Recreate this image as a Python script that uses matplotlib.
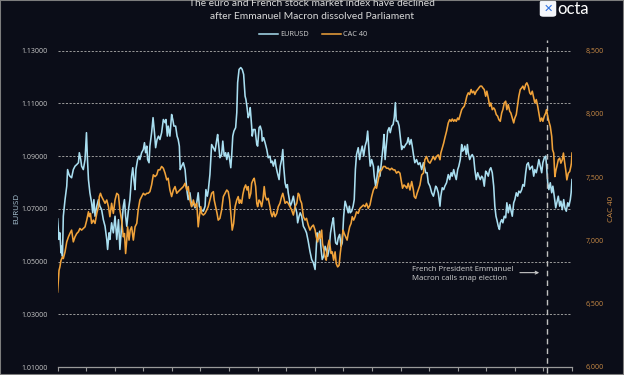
import matplotlib
matplotlib.use("Agg")
import matplotlib.pyplot as plt
from matplotlib.patches import FancyBboxPatch, Rectangle
from matplotlib.ticker import FuncFormatter

plt.rcParams['font.family'] = ['Lato', 'DejaVu Sans']

# ---------------- data (time in months since start of series) ----------------
eur_t = [0.00,0.05,0.08,0.12,0.14,0.17,0.20,0.26,0.32,0.35,0.40,0.43,0.49,0.55,0.61,0.67,0.73,0.76,0.81,0.84,
         0.90,0.96,1.01,1.04,1.08,1.13,1.19,1.23,1.27,1.31,1.37,1.43,1.48,1.54,1.60,1.66,1.72,1.75,1.80,1.83,
         1.89,1.95,2.01,2.07,2.13,2.18,2.24,2.30,2.34,2.38,2.42,2.48,2.53,2.59,2.63,2.67,2.71,2.74,2.80,2.85,
         2.88,2.94,3.00,3.04,3.08,3.12,3.15,3.20,3.23,3.29,3.34,3.39,3.43,3.48,3.53,3.58,3.64,3.70,3.76,3.79,
         3.84,3.87,3.93,3.99,4.03,4.07,4.13,4.18,4.22,4.26,4.29,4.34,4.40,
         4.46,4.52,4.57,4.63,4.69,4.75,4.81,4.87,4.92,4.96,5.02,5.10,5.16,5.19,5.24,5.27,5.33,5.39,5.45,5.51,
         5.57,5.60,5.65,5.68,5.74,5.78,5.83,5.88,5.92,5.97,6.01,6.06,6.09,6.13,6.17,6.23,6.27,6.30,6.35,6.41,
         6.46,6.51,6.56,6.59,6.63,6.67,6.71,6.74,6.79,6.81,6.85,6.91,6.97,7.00,7.05,7.09,7.14,7.16,7.21,7.26,
         7.32,7.37,7.43,7.47,7.51,7.55,7.61,7.64,7.69,7.75,7.79,7.84,7.88,7.91,7.96,8.00,8.04,8.07,8.11,8.14,
         8.19,8.25,8.31,8.37,8.40,8.45,8.49,8.54,8.60,8.66,8.71,8.77,8.83,8.89,8.95,9.01,
         9.04,9.08,9.12,9.17,9.22,9.26,9.31,9.36,9.40,9.45,9.50,9.55,9.61,9.65,9.68,9.73,9.78,9.82,9.87,9.92,
         9.96,10.01,10.06,10.11,10.17,10.21,10.24,10.29,10.34,10.38,10.42,10.46,10.52,10.57,10.62,10.66,10.71,10.76,10.81,10.85,
         10.90,10.94,10.99,11.05,11.08,11.13,11.18,11.22,11.28,11.34,11.39,11.42,11.46,11.50,11.55,11.60,11.64,11.69,11.74,11.78,
         11.82,11.85,11.90,11.95,11.99,12.04,12.07,12.12,12.18,12.23,12.27,12.32,12.37,12.41,12.46,12.50,12.56,12.62,12.68,12.74,
         12.80,12.83,12.88,12.93,12.97,13.03,13.09,13.15,13.18,13.23,13.27,13.32,13.38,13.41,13.46,13.51,13.55,
         13.61,13.67,13.72,13.77,13.81,13.86,13.90,13.95,14.00,14.04,14.09,14.14,14.17,14.21,14.25,14.30,14.34,14.37,14.42,14.47,
         14.51,14.56,14.60,14.65,14.70,14.74,14.79,14.84,14.88,14.93,14.98,15.02,15.07,15.12,15.16,15.21,15.26,15.30,15.34,15.37,
         15.42,15.46,15.49,15.54,15.58,15.63,15.68,15.72,15.77,15.82,15.86,15.91,15.96,16.00,16.05,16.10,16.14,16.19,16.24,16.28,
         16.33,16.38,16.42,16.47,16.52,16.56,16.61,16.66,16.70,16.75,16.80,16.84,16.89,16.94,16.98,17.03,17.08,17.11,17.15,17.19,
         17.24,17.29,17.33,17.38,17.43,17.47,17.52,17.57,17.61,17.66,17.71,17.75,17.80,17.85,17.89,17.94,17.97,18.00]

eurusd = [1.0662,1.0584,1.0609,1.0533,1.0558,1.0520,1.0672,1.0735,1.0786,1.0849,1.0830,1.0824,1.0818,1.0849,1.0862,1.0868,1.0875,1.0913,1.0887,1.0862,
          1.0849,1.0887,1.0989,1.0900,1.0811,1.0761,1.0723,1.0685,1.0735,1.0672,1.0710,1.0735,1.0710,1.0697,1.0659,1.0634,1.0584,1.0546,1.0609,1.0584,
          1.0647,1.0609,1.0672,1.0584,1.0659,1.0546,1.0634,1.0710,1.0735,1.0672,1.0634,1.0697,1.0735,1.0824,1.0856,1.0811,1.0773,1.0849,1.0887,1.0900,
          1.0887,1.0913,1.0925,1.0951,1.0913,1.0938,1.0887,1.0875,1.0938,1.0989,1.1046,1.0989,1.0932,1.0963,1.0976,1.0963,1.0989,1.1039,1.1027,1.1039,
          1.0976,1.1014,1.0976,1.1058,1.1039,1.1014,1.1014,1.0976,1.0963,1.0938,1.0849,1.0862,1.0875,
          1.0849,1.0773,1.0735,1.0761,1.0710,1.0723,1.0704,1.0723,1.0761,1.0710,1.0697,1.0691,1.0710,1.0773,1.0748,1.0767,1.0830,1.0944,1.0932,1.0919,
          1.0963,1.0982,1.0925,1.0894,1.0906,1.0957,1.0900,1.0913,1.0887,1.0913,1.0894,1.0856,1.0900,1.0976,1.0995,1.1008,1.1065,1.1179,1.1229,1.1236,
          1.1229,1.1210,1.1128,1.1115,1.1084,1.1046,1.1058,1.1084,1.1014,1.0976,1.1001,1.1001,1.0944,1.0938,1.1008,1.1014,1.0995,1.0957,1.0970,1.0951,
          1.0925,1.0894,1.0900,1.0875,1.0881,1.0862,1.0887,1.0862,1.0837,1.0811,1.0862,1.0887,1.0925,1.0862,1.0799,1.0780,1.0792,1.0761,1.0735,1.0710,
          1.0723,1.0748,1.0710,1.0685,1.0647,1.0672,1.0685,1.0672,1.0634,1.0622,1.0609,1.0577,1.0539,1.0508,1.0495,1.0470,
          1.0530,1.0609,1.0584,1.0615,1.0546,1.0508,1.0520,1.0558,1.0546,1.0520,1.0546,1.0609,1.0647,1.0666,1.0622,1.0571,1.0565,1.0590,1.0603,1.0558,
          1.0571,1.0672,1.0729,1.0710,1.0685,1.0710,1.0685,1.0691,1.0710,1.0735,1.0849,1.0906,1.0932,1.0887,1.0919,1.0938,1.0900,1.0938,1.0957,1.0995,
          1.0913,1.0862,1.0887,1.0862,1.0824,1.0786,1.0824,1.0862,1.0824,1.0887,1.0938,1.0982,1.0887,1.0938,1.0995,1.1008,1.0989,1.1014,1.1020,1.1046,
          1.1103,1.1033,1.1033,1.1014,1.0976,1.0925,1.0938,1.0932,1.0944,1.0951,1.0970,1.0944,1.0963,1.0938,1.0900,1.0875,1.0887,1.0868,1.0875,1.0849,
          1.0875,1.0862,1.0837,1.0837,1.0799,1.0786,1.0761,1.0748,1.0761,1.0786,1.0780,1.0761,1.0710,1.0748,1.0780,1.0773,1.0786,
          1.0799,1.0830,1.0811,1.0837,1.0824,1.0849,1.0830,1.0811,1.0849,1.0862,1.0887,1.0944,1.0919,1.0925,1.0938,1.0906,1.0944,1.0913,1.0887,1.0900,
          1.0906,1.0894,1.0849,1.0811,1.0837,1.0824,1.0811,1.0824,1.0818,1.0786,1.0843,1.0837,1.0824,1.0849,1.0856,1.0837,1.0786,1.0710,1.0672,1.0659,
          1.0634,1.0622,1.0647,1.0659,1.0647,1.0672,1.0666,1.0723,1.0685,1.0716,1.0697,1.0672,1.0723,1.0735,1.0761,1.0748,1.0767,1.0761,1.0773,1.0792,
          1.0786,1.0837,1.0868,1.0875,1.0849,1.0856,1.0862,1.0824,1.0849,1.0837,1.0862,1.0887,1.0862,1.0837,1.0875,1.0894,1.0900,1.0862,1.0799,1.0773,
          1.0799,1.0761,1.0786,1.0748,1.0704,1.0723,1.0748,1.0710,1.0729,1.0697,1.0735,1.0704,1.0691,1.0723,1.0710,1.0735,1.0761,1.0811]

cac_t = [0.00,0.05,0.08,0.12,0.17,0.20,0.26,0.32,0.38,0.43,0.49,0.55,0.61,0.67,0.73,0.78,0.84,0.90,0.96,1.02,
         1.08,1.11,1.15,1.19,1.25,1.31,1.37,1.43,1.46,1.50,1.54,1.60,1.66,1.72,1.78,1.83,1.89,1.95,2.01,2.07,
         2.13,2.18,2.24,2.30,2.34,2.38,2.42,2.45,2.50,2.54,2.59,2.65,2.71,2.77,2.82,2.88,2.94,3.00,3.06,3.12,
         3.17,3.23,3.29,3.35,3.41,3.47,3.52,3.58,3.64,3.70,3.76,3.82,3.87,3.93,3.99,4.05,4.11,4.17,4.22,4.28,
         4.34,4.40,
         4.46,4.52,4.57,4.63,4.69,4.75,4.81,4.87,4.90,4.92,4.96,5.01,5.04,5.10,5.16,5.22,5.27,5.33,5.39,5.45,
         5.48,5.53,5.58,5.62,5.68,5.74,5.80,5.86,5.92,5.97,6.02,6.07,6.11,6.16,6.21,6.27,6.32,6.36,6.39,6.44,
         6.48,6.53,6.58,6.63,6.67,6.71,6.76,6.79,6.84,6.88,6.93,6.97,7.00,7.05,7.09,7.14,7.19,7.23,7.27,7.32,
         7.37,7.43,7.47,7.51,7.56,7.61,7.67,7.72,7.78,7.84,7.88,7.92,7.96,8.02,8.07,8.13,8.19,8.25,8.31,8.37,
         8.42,8.46,8.49,8.54,8.60,8.66,8.71,8.77,8.83,8.89,8.95,9.01,
         9.05,9.10,9.15,9.19,9.24,9.27,9.32,9.36,9.40,9.45,9.50,9.53,9.57,9.61,9.66,9.71,9.75,9.80,9.85,9.89,
         9.94,9.99,10.03,10.08,10.13,10.17,10.22,10.27,10.31,10.36,10.41,10.46,10.52,10.58,10.64,10.70,10.76,10.81,10.87,10.93,
         10.99,11.05,11.11,11.16,11.22,11.28,11.34,11.40,11.46,11.51,11.57,11.63,11.69,11.75,11.80,11.86,11.92,11.98,12.04,12.07,
         12.12,12.18,12.22,12.27,12.33,12.39,12.45,12.48,12.53,12.58,12.62,12.68,12.74,12.80,12.85,12.91,12.97,13.03,13.09,13.15,
         13.20,13.26,13.32,13.38,13.41,13.46,13.51,13.55,
         13.61,13.67,13.72,13.77,13.81,13.86,13.90,13.95,14.00,14.04,14.09,14.14,14.18,14.23,14.28,14.32,14.37,14.42,14.47,14.51,
         14.56,14.60,14.65,14.70,14.74,14.79,14.84,14.88,14.93,14.98,15.02,15.07,15.12,15.16,15.21,15.26,15.30,15.35,15.40,15.44,
         15.49,15.54,15.58,15.63,15.68,15.72,15.77,15.82,15.86,15.91,15.96,16.00,16.05,16.10,16.14,16.19,16.24,16.28,16.33,16.38,
         16.42,16.47,16.52,16.56,16.61,16.66,16.70,16.75,16.80,16.84,16.89,16.94,16.98,17.03,17.08,17.11,17.15,17.19,17.24,17.29,
         17.32,17.36,17.40,17.44,17.47,17.52,17.57,17.61,17.66,17.70,17.73,17.78,17.82,17.87,17.92,17.96,17.98,18.00]

cac40 = [6593,6764,6791,6844,6870,6857,6910,6989,7029,7055,7082,6989,7029,7055,7069,7095,7082,7095,7108,7161,
         7227,7188,7214,7135,7161,7135,7214,7267,7347,7373,7347,7320,7294,7320,7267,7188,7294,7214,7320,7373,
         7360,7241,7161,7029,7055,6897,7003,7108,7003,7082,7108,7003,7108,7135,7241,7320,7347,7373,7360,7373,
         7373,7386,7439,7519,7505,7519,7558,7558,7585,7571,7532,7479,7492,7399,7347,7399,7426,7373,7386,7399,
         7413,7426,
         7452,7399,7426,7320,7267,7320,7267,7294,7188,7108,7188,7267,7214,7201,7214,7241,7267,7320,7373,7386,
         7320,7267,7214,7161,7175,7241,7347,7373,7399,7386,7320,7188,7082,7135,7267,7320,7347,7294,7320,7294,
         7360,7413,7439,7399,7426,7333,7373,7452,7479,7492,7426,7294,7267,7320,7307,7267,7333,7426,7347,7320,
         7333,7267,7214,7188,7227,7188,7214,7267,7294,7347,7373,7333,7294,7307,7294,7267,7241,7201,7267,7294,
         7373,7360,7320,7294,7188,7161,7175,7122,7082,7108,7122,7082,
         7029,6989,7055,7016,7082,6976,6923,6870,6844,6950,7003,6963,6897,6910,6844,6910,6817,6791,6804,6897,
         6989,7082,7055,7029,7003,7055,7108,7135,7188,7161,7188,7227,7214,7254,7267,7280,7267,7294,7254,7280,
         7347,7399,7426,7413,7479,7545,7558,7585,7585,7571,7571,7558,7571,7558,7558,7532,7545,7532,7452,7413,
         7439,7426,7413,7452,7399,7466,7399,7347,7333,7373,7399,7439,7519,7532,7638,7664,7624,7611,7638,7664,
         7638,7664,7677,7638,7691,7730,7770,7810,
         7863,7929,7955,7942,7960,7942,7955,7942,7968,7955,7995,8034,8048,8061,8101,8140,8167,8154,8193,8167,
         8180,8154,8180,8193,8206,8220,8220,8206,8193,8140,8180,8127,8061,8087,8034,8048,8034,7995,7982,7955,
         7942,8008,8034,8087,8101,8034,8074,8021,8008,7968,7929,7968,7995,8074,8140,8193,8206,8220,8193,8233,
         8246,8220,8167,8154,8180,8127,8087,8114,8061,8008,7942,7968,7942,7982,8008,8034,7982,7942,7902,7823,
         7717,7691,7505,7558,7585,7638,7651,7611,7638,7691,7638,7558,7479,7532,7545,7585,7611,7691]

eur_ticks = [1.01, 1.03, 1.05, 1.07, 1.09, 1.11, 1.13]
cac_ticks = [6000, 6500, 7000, 7500, 8000, 8500]
month_ticks = list(range(0, 19))
event_t = 17.13

title_lines = ["The euro and French stock market index have declined",
               "after Emmanuel Macron dissolved Parliament"]
annotation = "French President Emmanuel\nMacron calls snap election"

# ---------------- styling ----------------
BG = '#0b0d18'
BLUE = '#a9def0'
ORANGE = '#f0a23a'
GRID = '#9a9a9a'
LABEL = '#c8c8c8'
RLABEL = '#c98a45'
TICKFONT = ['Open Sans', 'DejaVu Sans']

W, H = 624, 375
fig = plt.figure(figsize=(W / 100, H / 100), dpi=100, facecolor=BG)

def px_rect(l, r, t, b):
    return [l / W, (H - b) / H, (r - l) / W, (b - t) / H]

ax = fig.add_axes(px_rect(57.6, 572.0, 50.7, 367.0))
ax.set_facecolor(BG)
ax2 = ax.twinx()

ax.plot(eur_t, eurusd, color=BLUE, lw=1.15, zorder=3)
ax2.plot(cac_t, cac40, color=ORANGE, lw=1.15, zorder=3)

ax.set_xlim(0, 18)
ax.set_ylim(1.01, 1.13)
ax2.set_ylim(6000, 8500)

ax.set_yticks(eur_ticks)
ax.yaxis.set_major_formatter(FuncFormatter(lambda v, p: f"{v:.5f}"))
ax2.set_yticks(cac_ticks)
ax2.yaxis.set_major_formatter(FuncFormatter(lambda v, p: f"{int(v):,}"))

ax.set_xticks(month_ticks)
ax.set_xticklabels([])
ax.tick_params(axis='x', colors=GRID, length=3, width=0.8, direction='out')
ax.tick_params(axis='y', length=0, pad=7, labelsize=5, labelcolor=LABEL)
ax2.tick_params(axis='y', length=0, pad=10, labelsize=5, labelcolor=RLABEL)
for lab in ax.get_yticklabels() + ax2.get_yticklabels():
    lab.set_family(TICKFONT)

for a in (ax, ax2):
    for s in ('left', 'right', 'top', 'bottom'):
        a.spines[s].set_visible(False)
ax.spines['bottom'].set_visible(True)
ax.spines['bottom'].set_color(GRID)
ax.spines['bottom'].set_linewidth(0.9)

ax.grid(axis='y', color=GRID, lw=0.7, ls=(0, (2.2, 1.6)))
ax.set_axisbelow(True)

ax.set_ylabel("EURUSD", color='#a9c3d3', fontsize=5.8, labelpad=1, family=TICKFONT)
ax2.set_ylabel("CAC 40", color=RLABEL, fontsize=5.8, labelpad=3, family=TICKFONT)

# event marker
ax.plot([event_t, event_t], [-0.02, 1.035], transform=ax.get_xaxis_transform(),
        color='#c0c0c0', lw=1.0, ls=(0, (4, 3)), clip_on=False, zorder=4)
ax.annotate("", xy=(event_t - 0.18, 1.0458), xytext=(event_t - 1.05, 1.0458),
            arrowprops=dict(arrowstyle='->', color='#c8c8c8', lw=0.8, mutation_scale=5))
ax.text(event_t - 4.73, 1.0453, annotation, color='#d0d0d0', fontsize=5.6,
        va='center', ha='left', linespacing=1.45, family=TICKFONT)

# title
fig.text(0.5, 1 - 3.5 / H, title_lines[0], color='#d9d9d9', fontsize=7.4,
         ha='center', va='center')
fig.text(0.5, 1 - 16.5 / H, title_lines[1], color='#d9d9d9', fontsize=7.4,
         ha='center', va='center')

# legend
ax.legend(handles=[plt.Line2D([], [], color=BLUE, lw=1.1),
                   plt.Line2D([], [], color=ORANGE, lw=1.1)],
          labels=["EURUSD", "CAC 40"], ncol=2, frameon=False,
          loc='center', bbox_to_anchor=((313 - 57.6) / (572 - 57.6), 1 + (50.7 - 34.7) / (367 - 50.7)),
          prop={'family': TICKFONT, 'size': 5.3}, labelcolor='#d0d0d0', handlelength=2.6,
          handletextpad=0.3, columnspacing=1.8)

# logo
logo = FancyBboxPatch((541 / W, 1 - 16 / H), 14 / W, 15 / H, boxstyle="round,pad=0.002,rounding_size=0.006",
                      transform=fig.transFigure, facecolor='#f4f6fb', edgecolor='none')
fig.patches.append(logo)
fig.text(548 / W, 1 - 8.5 / H, "✕", color='#2b6fe0', fontsize=8, ha='center', va='center',
         fontweight='bold', family=['DejaVu Sans'])
fig.text(557 / W, 1 - 8.5 / H, "octa", color='white', fontsize=12, ha='left', va='center')

# frame border
fig.patches.append(Rectangle((0, 0), 1, 1, transform=fig.transFigure, fill=False,
                             edgecolor='#7d7d7d', lw=1.5))

fig.savefig("out.png", dpi=100, facecolor=BG)
